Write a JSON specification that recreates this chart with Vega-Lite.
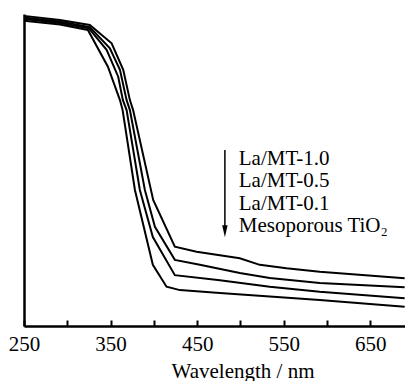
{
  "$schema": "https://vega.github.io/schema/vega-lite/v6.json",
  "width": 381,
  "height": 312,
  "autosize": {"type": "none"},
  "padding": {"left": 24, "top": 14, "right": 0, "bottom": 55},
  "background": "white",
  "config": {"view": {"stroke": null}, "font": "Liberation Serif, Times New Roman, serif"},
  "datasets": {
    "curves": [
      {"s": "La/MT-1.0", "x": 250, "y": 99.4},
      {"s": "La/MT-1.0", "x": 291.5, "y": 98.1},
      {"s": "La/MT-1.0", "x": 326, "y": 96.5},
      {"s": "La/MT-1.0", "x": 351.2, "y": 90.6},
      {"s": "La/MT-1.0", "x": 364.6, "y": 82.1},
      {"s": "La/MT-1.0", "x": 372.3, "y": 72.4},
      {"s": "La/MT-1.0", "x": 376, "y": 69.2},
      {"s": "La/MT-1.0", "x": 399.2, "y": 40.4},
      {"s": "La/MT-1.0", "x": 424.2, "y": 25.4},
      {"s": "La/MT-1.0", "x": 449.3, "y": 23.8},
      {"s": "La/MT-1.0", "x": 499.2, "y": 21.7},
      {"s": "La/MT-1.0", "x": 522.3, "y": 19.6},
      {"s": "La/MT-1.0", "x": 553.1, "y": 18.5},
      {"s": "La/MT-1.0", "x": 591.5, "y": 17.4},
      {"s": "La/MT-1.0", "x": 689.6, "y": 15.3},
      {"s": "La/MT-0.5", "x": 250, "y": 98.9},
      {"s": "La/MT-0.5", "x": 291.5, "y": 97.6},
      {"s": "La/MT-0.5", "x": 326, "y": 95.8},
      {"s": "La/MT-0.5", "x": 349.2, "y": 89.0},
      {"s": "La/MT-0.5", "x": 360.8, "y": 82.1},
      {"s": "La/MT-0.5", "x": 368.5, "y": 72.4},
      {"s": "La/MT-0.5", "x": 372.3, "y": 69.2},
      {"s": "La/MT-0.5", "x": 389.6, "y": 43.6},
      {"s": "La/MT-0.5", "x": 401.2, "y": 31.8},
      {"s": "La/MT-0.5", "x": 424.2, "y": 21.2},
      {"s": "La/MT-0.5", "x": 453.1, "y": 19.6},
      {"s": "La/MT-0.5", "x": 499.2, "y": 17.0},
      {"s": "La/MT-0.5", "x": 533.8, "y": 15.4},
      {"s": "La/MT-0.5", "x": 591.5, "y": 13.8},
      {"s": "La/MT-0.5", "x": 689.6, "y": 12.4},
      {"s": "La/MT-0.1", "x": 250, "y": 98.4},
      {"s": "La/MT-0.1", "x": 291.5, "y": 97.1},
      {"s": "La/MT-0.1", "x": 325, "y": 95.4},
      {"s": "La/MT-0.1", "x": 345.4, "y": 88.5},
      {"s": "La/MT-0.1", "x": 358.8, "y": 79.9},
      {"s": "La/MT-0.1", "x": 364.2, "y": 72.4},
      {"s": "La/MT-0.1", "x": 368.5, "y": 69.2},
      {"s": "La/MT-0.1", "x": 383.8, "y": 43.6},
      {"s": "La/MT-0.1", "x": 398.8, "y": 28.5},
      {"s": "La/MT-0.1", "x": 424.2, "y": 16.3},
      {"s": "La/MT-0.1", "x": 476.2, "y": 14.7},
      {"s": "La/MT-0.1", "x": 533.8, "y": 12.6},
      {"s": "La/MT-0.1", "x": 591.5, "y": 11.0},
      {"s": "La/MT-0.1", "x": 689.6, "y": 8.9},
      {"s": "TiO2", "x": 250, "y": 97.8},
      {"s": "TiO2", "x": 291.5, "y": 96.6},
      {"s": "TiO2", "x": 323.8, "y": 94.9},
      {"s": "TiO2", "x": 346.9, "y": 83.1},
      {"s": "TiO2", "x": 360.8, "y": 72.4},
      {"s": "TiO2", "x": 363.9, "y": 69.2},
      {"s": "TiO2", "x": 378.1, "y": 43.6},
      {"s": "TiO2", "x": 398.8, "y": 19.6},
      {"s": "TiO2", "x": 414.6, "y": 12.6},
      {"s": "TiO2", "x": 430, "y": 11.5},
      {"s": "TiO2", "x": 476.2, "y": 10.6},
      {"s": "TiO2", "x": 591.5, "y": 8.3},
      {"s": "TiO2", "x": 689.6, "y": 6.2}
    ],
    "labels": [
      {"text": "La/MT-1.0", "x": 498, "y": 51.6},
      {"text": "La/MT-0.5", "x": 498, "y": 44.4},
      {"text": "La/MT-0.1", "x": 498, "y": 37.2},
      {"text": "Mesoporous TiO₂", "x": 498, "y": 30.1}
    ],
    "arrow": [{"x": 482, "y": 56.4, "y2": 32}],
    "head": [{"x": 482, "y": 30.4}]
  },
  "layer": [
    {
      "data": {"name": "curves"},
      "mark": {"type": "line", "color": "black", "strokeWidth": 2},
      "encoding": {
        "x": {
          "field": "x", "type": "quantitative",
          "scale": {"domain": [250, 690], "nice": false, "zero": false},
          "axis": {
            "title": "Wavelength / nm",
            "values": [250, 300, 350, 400, 450, 500, 550, 600, 650],
            "labelExpr": "datum.value % 100 == 50 ? datum.label : ''",
            "tickSize": -6, "tickWidth": 2, "tickColor": "black",
            "domainColor": "black", "domainWidth": 2.5,
            "labelFont": "Liberation Serif, Times New Roman, serif", "labelFontSize": 21, "labelColor": "black",
            "labelPadding": 13.5, "labelFlush": false, "labelOverlap": false, "labelDx": 1.5,
            "grid": false,
            "titleFont": "Liberation Serif, Times New Roman, serif", "titleFontSize": 21, "titleFontWeight": "normal",
            "titleColor": "black", "titleX": 218.5, "titleY": 51,
            "titleBaseline": "alphabetic", "titleAlign": "center"
          }
        },
        "y": {
          "field": "y", "type": "quantitative",
          "scale": {"domain": [0, 100], "nice": false, "zero": false},
          "axis": {"labels": false, "ticks": false, "title": null, "grid": false,
                   "domainColor": "black", "domainWidth": 2.5}
        },
        "detail": {"field": "s"}
      }
    },
    {
      "mark": {"type": "rule", "color": "black", "strokeWidth": 2.5},
      "encoding": {"y": {"datum": 100}}
    },
    {
      "data": {"name": "arrow"},
      "mark": {"type": "rule", "color": "black", "strokeWidth": 1.5},
      "encoding": {
        "x": {"field": "x", "type": "quantitative"},
        "y": {"field": "y", "type": "quantitative"},
        "y2": {"field": "y2"}
      }
    },
    {
      "data": {"name": "head"},
      "mark": {"type": "point", "shape": "M-0.45,-1L0.45,-1L0,1Z", "filled": true,
               "color": "black", "size": 144, "opacity": 1, "strokeWidth": 0},
      "encoding": {
        "x": {"field": "x", "type": "quantitative"},
        "y": {"field": "y", "type": "quantitative"}
      }
    },
    {
      "data": {"name": "labels"},
      "mark": {"type": "text", "align": "left", "baseline": "alphabetic",
               "fontSize": 21, "font": "Liberation Serif, Times New Roman, serif", "color": "black"},
      "encoding": {
        "x": {"field": "x", "type": "quantitative"},
        "y": {"field": "y", "type": "quantitative"},
        "text": {"field": "text"}
      }
    }
  ]
}
